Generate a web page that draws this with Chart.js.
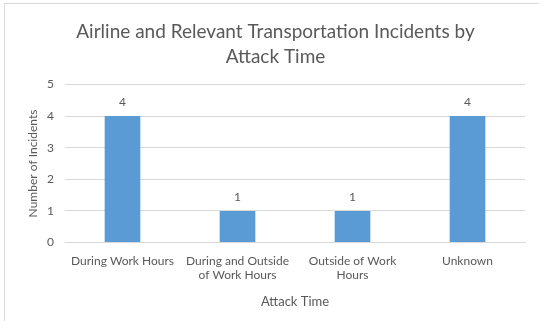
<!DOCTYPE html>
<html>
<head>
<meta charset="utf-8">
<script src="https://cdn.jsdelivr.net/npm/chart.js@4.4.1/dist/chart.umd.min.js"></script>
<style>
  html, body { margin: 0; padding: 0; background: #fff; }
  #frame {
    position: absolute; left: 4px; top: 3px; width: 540px; height: 320px;
    border-left: 1px solid #d9d9d9; border-top: 1px solid #d9d9d9;
  }
  #wrap { position: absolute; left: 0; top: 0; width: 539px; height: 321px; }
</style>
</head>
<body>
<div id="frame"></div>
<div id="wrap"><canvas id="attackChart"></canvas></div>
<script>
// Incidents grouped by when the attack happened
const categories = [
    ['During Work Hours'],
    ['During and Outside', 'of Work Hours'],
    ['Outside of Work', 'Hours'],
    ['Unknown']
];
const incidents = [4, 1, 1, 4];
const yTicks = [0, 1, 2, 3, 4, 5];

const textColor = '#595959';
const gridColor = '#d9d9d9';
const barColor = '#5b9bd5';
const fontFamily = 'Lato, "Open Sans", sans-serif';

// Writes each bar's value just above it
const valueLabels = {
    id: 'valueLabels',
    afterDatasetsDraw(chart) {
        const ctx = chart.ctx;
        const meta = chart.getDatasetMeta(0);
        ctx.save();
        ctx.font = '12px ' + fontFamily;
        ctx.fillStyle = textColor;
        ctx.textAlign = 'center';
        ctx.textBaseline = 'middle';
        meta.data.forEach((bar, i) => {
            ctx.fillText(String(chart.data.datasets[0].data[i]), bar.x, bar.y - 14);
        });
        ctx.restore();
    }
};

new Chart(document.getElementById('attackChart'), {
    type: 'bar',
    data: {
        labels: categories,
        datasets: [{
            label: 'Number of Incidents',
            data: incidents,
            backgroundColor: barColor,
            borderWidth: 0,
            categoryPercentage: 1.0,
            barPercentage: 0.31
        }]
    },
    options: {
        responsive: true,
        maintainAspectRatio: false,
        animation: false,
        layout: { padding: { left: 26, right: 14, top: 8, bottom: 11 } },
        plugins: {
            legend: { display: false },
            tooltip: { enabled: false },
            title: {
                display: true,
                text: ['Airline and Relevant Transportation Incidents by', 'Attack Time'],
                color: textColor,
                font: { family: fontFamily, size: 19, weight: 'normal', lineHeight: 1.3 },
                padding: { top: 12, bottom: 15 }
            }
        },
        scales: {
            x: {
                grid: { display: false, drawTicks: false },
                border: { color: gridColor },
                ticks: {
                    color: textColor,
                    font: { family: fontFamily, size: 12 },
                    maxRotation: 0,
                    autoSkip: false,
                    padding: 11
                },
                title: {
                    display: true,
                    text: 'Attack Time',
                    color: textColor,
                    font: { family: fontFamily, size: 13 },
                    padding: { top: 1, bottom: 0 }
                }
            },
            y: {
                min: 0,
                max: 5,
                afterBuildTicks(scale) {
                    scale.ticks = yTicks.map(v => ({ value: v }));
                },
                afterFit(scale) {
                    scale.width = 39;
                },
                grid: { color: gridColor, drawTicks: false },
                border: { display: false },
                ticks: {
                    color: textColor,
                    font: { family: fontFamily, size: 12 },
                    padding: 11
                },
                title: {
                    display: true,
                    text: 'Number of Incidents',
                    color: textColor,
                    font: { family: fontFamily, size: 12 },
                    padding: { top: 0, bottom: 0 }
                }
            }
        }
    },
    plugins: [valueLabels]
});
</script>
</body>
</html>
